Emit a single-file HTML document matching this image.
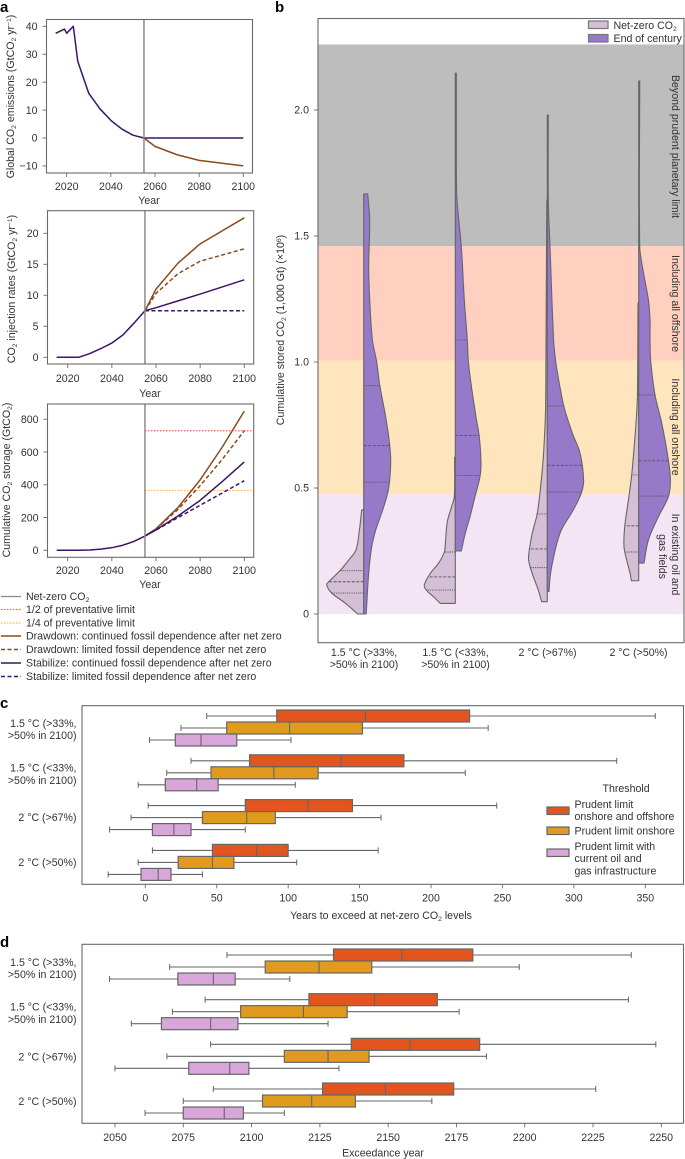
<!DOCTYPE html>
<html lang="en">
<head>
<meta charset="utf-8">
<title>CO2 storage chart</title>
<style>
html,body{margin:0;padding:0;background:#fff;}
svg{display:block;}
text{font-family:"Liberation Sans",sans-serif;font-size:10.6px;fill:#333;}
.pl{font-size:15px;font-weight:bold;fill:#000;}
.m{text-anchor:middle;}
.e{text-anchor:end;}
</style>
</head>
<body>
<svg id="fig" xmlns="http://www.w3.org/2000/svg" width="685" height="1159" viewBox="0 0 685 1159">
<rect x="0" y="0" width="685" height="1159" fill="#fff"/>
<g id="layerMarks"></g>

<text class="pl" x="0" y="12">a</text>
<text class="pl" x="275" y="12">b</text>
<text class="pl" x="0" y="708">c</text>
<text class="pl" x="0" y="947">d</text>

<text class="m" transform="translate(14 96.5) rotate(-90)">Global CO<tspan dy="2" font-size="6.8">2</tspan><tspan dy="-2"> emissions (GtCO</tspan><tspan dy="2" font-size="6.8">2</tspan><tspan dy="-2"> yr</tspan><tspan dy="-3" font-size="6.8">−1</tspan><tspan dy="3">)</tspan></text>
<text class="m" x="149" y="204">Year</text>
<text class="m" transform="translate(15 289) rotate(-90)">CO<tspan dy="2" font-size="6.8">2</tspan><tspan dy="-2"> injection rates (GtCO</tspan><tspan dy="2" font-size="6.8">2</tspan><tspan dy="-2"> yr</tspan><tspan dy="-3" font-size="6.8">−1</tspan><tspan dy="3">)</tspan></text>
<text class="m" x="150" y="397">Year</text>
<text class="m" transform="translate(10 480) rotate(-90)">Cumulative CO<tspan dy="2" font-size="6.8">2</tspan><tspan dy="-2"> storage (GtCO</tspan><tspan dy="2" font-size="6.8">2</tspan><tspan dy="-2">)</tspan></text>
<text class="m" x="150" y="588">Year</text>

<g>
<line x1="1" x2="21" y1="596.5" y2="596.5" stroke="#8c8c8c" stroke-width="1.3"/>
<text x="26" y="600">Net-zero CO<tspan dy="2" font-size="6.8">2</tspan></text>
<line x1="1" x2="21" y1="609.5" y2="609.5" stroke="#ff5a5a" stroke-width="1.3" stroke-dasharray="1.5 1.5"/>
<text x="26" y="613">1/2 of preventative limit</text>
<line x1="1" x2="21" y1="623" y2="623" stroke="#ffb84d" stroke-width="1.3" stroke-dasharray="1.5 1.5"/>
<text x="26" y="626.5">1/4 of preventative limit</text>
<line x1="1" x2="21" y1="636" y2="636" stroke="#8a4a1c" stroke-width="1.5"/>
<text x="26" y="639.5">Drawdown: continued fossil dependence after net zero</text>
<line x1="1" x2="21" y1="649.5" y2="649.5" stroke="#8a4a1c" stroke-width="1.5" stroke-dasharray="4 2.5"/>
<text x="26" y="653">Drawdown: limited fossil dependence after net zero</text>
<line x1="1" x2="21" y1="663" y2="663" stroke="#3b1566" stroke-width="1.5"/>
<text x="26" y="666.5">Stabilize: continued fossil dependence after net zero</text>
<line x1="1" x2="21" y1="676.5" y2="676.5" stroke="#3b1566" stroke-width="1.5" stroke-dasharray="4 2.5"/>
<text x="26" y="680">Stabilize: limited fossil dependence after net zero</text>
</g>

<text class="m" transform="translate(284 330) rotate(-90)">Cumulative stored CO<tspan dy="2" font-size="6.8">2</tspan><tspan dy="-2"> (1,000 Gt) (×10</tspan><tspan dy="-3" font-size="6.8">6</tspan><tspan dy="3">)</tspan></text>
<g>
<rect x="588.5" y="21" width="19.5" height="7.5" fill="#d4bfd6" stroke="#777" stroke-width="1.2"/>
<text x="613.5" y="29">Net-zero CO<tspan dy="2" font-size="6.8">2</tspan></text>
<rect x="588.5" y="34.5" width="19.5" height="7.5" fill="#9679c8" stroke="#777" stroke-width="1.2"/>
<text x="613.5" y="42">End of century</text>
</g>
<text class="m" transform="translate(672 146.5) rotate(90)">Beyond prudent planetary limit</text>
<text class="m" transform="translate(672 303.5) rotate(90)">Including all offshore</text>
<text class="m" transform="translate(672 427) rotate(90)">Including all onshore</text>
<text class="m" transform="translate(672 554.5) rotate(90)">In existing oil and</text>
<text class="m" transform="translate(659 556.5) rotate(90)">gas fields</text>

<text class="m" x="364" y="656">1.5 °C (&gt;33%,</text>
<text class="m" x="364" y="668">&gt;50% in 2100)</text>
<text class="m" x="455.5" y="656">1.5 °C (&lt;33%,</text>
<text class="m" x="455.5" y="668">&gt;50% in 2100)</text>
<text class="m" x="547.5" y="656">2 °C (&gt;67%)</text>
<text class="m" x="638.5" y="656">2 °C (&gt;50%)</text>

<text class="e" x="76.5" y="727">1.5 °C (&gt;33%,</text>
<text class="e" x="76.5" y="739">&gt;50% in 2100)</text>
<text class="e" x="76.5" y="771.5">1.5 °C (&lt;33%,</text>
<text class="e" x="76.5" y="784">&gt;50% in 2100)</text>
<text class="e" x="76.5" y="821">2 °C (&gt;67%)</text>
<text class="e" x="76.5" y="866">2 °C (&gt;50%)</text>
<text class="m" x="381" y="919">Years to exceed at net-zero CO<tspan dy="2" font-size="6.8">2</tspan><tspan dy="-2"> levels</tspan></text>

<g>
<text x="602.5" y="792">Threshold</text>
<rect x="547" y="807" width="22" height="7.5" fill="#e2551f" stroke="#666" stroke-width="1.2"/>
<text x="574.5" y="808">Prudent limit</text>
<text x="574.5" y="820">onshore and offshore</text>
<rect x="547" y="827" width="22" height="7.5" fill="#e09b1f" stroke="#666" stroke-width="1.2"/>
<text x="574.5" y="834.5">Prudent limit onshore</text>
<rect x="547" y="849" width="22" height="7.5" fill="#d8a6d8" stroke="#666" stroke-width="1.2"/>
<text x="574.5" y="850">Prudent limit with</text>
<text x="574.5" y="862">current oil and</text>
<text x="574.5" y="874.5">gas infrastructure</text>
</g>

<text class="e" x="76.5" y="966">1.5 °C (&gt;33%,</text>
<text class="e" x="76.5" y="978">&gt;50% in 2100)</text>
<text class="e" x="76.5" y="1010.5">1.5 °C (&lt;33%,</text>
<text class="e" x="76.5" y="1023">&gt;50% in 2100)</text>
<text class="e" x="76.5" y="1060.5">2 °C (&gt;67%)</text>
<text class="e" x="76.5" y="1105">2 °C (&gt;50%)</text>
<text class="m" x="383" y="1156.5">Exceedance year</text>
</svg>

<script>
// ---------- Panel a: time series ----------
const yearTicks = [2020, 2040, 2060, 2080, 2100];
const netZeroYear = 2055;

const emissionTicks = [-10, 0, 10, 20, 30, 40];
const histEmissionYears = [2015, 2019, 2020, 2023, 2025, 2030, 2035, 2040, 2045, 2050, 2055];
const histEmissions = [37.5, 39, 37.5, 40, 27.5, 16, 10.5, 6.3, 3.2, 1, 0];
const drawdownEmissionYears = [2055, 2060, 2070, 2080, 2100];
const drawdownEmissions = [0, -3, -6, -8, -10];
const stabilizeEmissionYears = [2055, 2100];
const stabilizeEmissions = [0, 0];

const injectionTicks = [0, 5, 10, 15, 20];
const histInjectionYears = [2015, 2025, 2030, 2035, 2040, 2045, 2050, 2055];
const histInjection = [0, 0, 0.6, 1.4, 2.3, 3.6, 5.5, 7.5];
const postInjectionYears = [2055, 2060, 2070, 2080, 2100];
const injectionDrawdownContinued = [7.5, 11, 15.2, 18.3, 22.5];
const injectionDrawdownLimited = [7.5, 10.3, 13.5, 15.5, 17.5];
const injectionStabilizeContinued = [7.5, 8, 9.1, 10.2, 12.5];
const injectionStabilizeLimited = [7.5, 7.5, 7.5, 7.5, 7.5];

const storageTicks = [0, 200, 400, 600, 800];
const histStorageYears = [2015, 2025, 2030, 2035, 2040, 2045, 2050, 2055];
const histStorage = [0, 0, 2, 7, 16, 31, 54, 87];
const postStorageYears = [2055, 2060, 2070, 2080, 2090, 2100];
const storageDrawdownContinued = [87, 131, 262, 430, 630, 850];
const storageDrawdownLimited = [87, 130, 250, 395, 555, 730];
const storageStabilizeContinued = [87, 125, 210, 305, 420, 540];
const storageStabilizeLimited = [87, 124, 200, 275, 350, 425];
const halfLimit = 730;
const quarterLimit = 365;

// ---------- Panel b: violins ----------
const storedTicks = [0, 0.5, 1.0, 1.5, 2.0];
const bandEdges = [2.26, 1.46, 1.005, 0.475, 0];
const bandColours = ['#bdbdbd', '#ffcfbf', '#ffe5bd', '#f4e5f5'];

const v1EndLevels = [1.667, 1.563, 1.377, 1.246, 1.087, 1.0, 0.909, 0.782, 0.671, 0.6, 0.5, 0.425, 0.333, 0.266, 0.163, 0];
const v1EndDensity = [0.4, 0.6, 0.5, 0.6, 0.87, 1.3, 1.6, 2.2, 2.6, 2.7, 2.5, 2.0, 1.2, 0.8, 0.5, 0.25];
const v1EndQuartiles = [0.906, 0.668, 0.523];
const v1NetLevels = [0.413, 0.333, 0.254, 0.214, 0.172, 0.128, 0.115, 0.083, 0.044, 0];
const v1NetDensity = [0.2, 0.43, 0.77, 1.5, 2.37, 3.5, 3.7, 3.2, 1.87, 0.6];
const v1NetQuartiles = [0.172, 0.128, 0.083];

const v2EndLevels = [2.146, 1.802, 1.643, 1.458, 1.246, 1.087, 1.005, 0.915, 0.782, 0.703, 0.6, 0.545, 0.466, 0.386, 0.321, 0.25];
const v2EndDensity = [0.1, 0.1, 0.17, 0.6, 0.9, 1.2, 1.3, 1.57, 2.07, 2.4, 2.57, 2.47, 1.97, 1.47, 1.0, 0.6];
const v2EndQuartiles = [1.087, 0.708, 0.55];
const v2NetLevels = [0.622, 0.465, 0.426, 0.366, 0.294, 0.246, 0.2, 0.161, 0.115, 0.095, 0.069, 0.042];
const v2NetDensity = [0.07, 0.1, 0.37, 0.8, 0.97, 1.1, 1.7, 2.5, 3.1, 2.9, 2.2, 1.5];
const v2NetQuartiles = [0.246, 0.147, 0.095];

const v3EndLevels = [1.98, 1.643, 1.458, 1.087, 1.005, 0.915, 0.822, 0.718, 0.639, 0.532, 0.48, 0.413, 0.333, 0.267, 0.163, 0.089];
const v3EndDensity = [0.1, 0.1, 0.27, 0.63, 0.83, 1.2, 1.67, 2.5, 3.27, 3.63, 3.4, 2.6, 1.4, 0.87, 0.33, 0.17];
const v3EndQuartiles = [0.825, 0.59, 0.484];
const v3NetLevels = [1.643, 0.822, 0.639, 0.532, 0.4, 0.321, 0.254, 0.214, 0.163, 0.095, 0.049];
const v3NetDensity = [0.05, 0.17, 0.37, 0.6, 1.0, 1.5, 1.8, 1.87, 1.53, 0.9, 0.57];
const v3NetQuartiles = [0.397, 0.258, 0.184];

const v4EndLevels = [2.115, 1.458, 1.378, 1.246, 1.167, 1.087, 1.005, 0.869, 0.758, 0.611, 0.532, 0.466, 0.386, 0.294, 0.202];
const v4EndDensity = [0.1, 0.1, 0.37, 0.97, 1.13, 1.13, 1.2, 1.63, 2.3, 2.97, 3.17, 2.97, 1.97, 0.97, 0.53];
const v4EndQuartiles = [0.869, 0.608, 0.468];
const v4NetLevels = [1.234, 0.864, 0.758, 0.552, 0.452, 0.346, 0.266, 0.214, 0.163, 0.132];
const v4NetDensity = [0.07, 0.13, 0.27, 0.7, 1.03, 1.4, 1.47, 1.2, 0.87, 0.73];
const v4NetQuartiles = [0.552, 0.35, 0.246];

// ---------- Panel c: box stats [low whisker, q1, median, q3, high whisker] ----------
const cTicks = [0, 50, 100, 150, 200, 250, 300, 350];
const cOnshoreOffshore = [[43, 92, 154, 227, 357], [32, 73, 137, 181, 330], [2, 70, 114, 145, 246], [5, 47, 78, 100, 163]];
const cOnshore = [[25, 57, 101, 152, 240], [15, 46, 90, 121, 224], [-10, 40, 71, 91, 165], [-5, 23, 47, 62, 106]];
const cCurrent = [[3, 21, 39, 64, 102], [-5, 14, 36, 51, 105], [-25, 5, 20, 32, 70], [-26, -3, 9, 18, 40]];

// ---------- Panel d: box stats ----------
const dTicks = [2050, 2075, 2100, 2125, 2150, 2175, 2200, 2225, 2250];
const dOnshoreOffshore = [[2091, 2130, 2155, 2181, 2239], [2083, 2121, 2145, 2168, 2238], [2085, 2136.5, 2158, 2183.5, 2248], [2086, 2126, 2149, 2174, 2226]];
const dOnshore = [[2070, 2105, 2124.7, 2144, 2198], [2071, 2096, 2119, 2135, 2176], [2069, 2112, 2128, 2143, 2186], [2075, 2104, 2122, 2138, 2166]];
const dCurrent = [[2048, 2073, 2086, 2094, 2114], [2056, 2067, 2085, 2095, 2128], [2050, 2077, 2092, 2099, 2132], [2061, 2075, 2090, 2097, 2112]];

// ---------- Drawing ----------
const NS = 'http://www.w3.org/2000/svg';
const layer = document.getElementById('layerMarks');
const FRAME = '#6a6a6a';
const BROWN = '#8a4a1c';
const PURPLE = '#3b1566';

function linear(d0, p0, d1, p1) {
  return function (v) { return p0 + (v - d0) * (p1 - p0) / (d1 - d0); };
}
function mk(tag, attrs, name) {
  const el = document.createElementNS(NS, tag);
  for (const k in attrs) el.setAttribute(k, attrs[k]);
  
  
  layer.appendChild(el);
  return el;
}
function txt(x, y, s, anchor, name) {
  const el = mk('text', { x: x, y: y, 'text-anchor': anchor }, name);
  el.textContent = s;
  return el;
}
function frame(x0, y0, x1, y1, name) {
  mk('rect', { x: x0, y: y0, width: x1 - x0, height: y1 - y0, fill: 'none', stroke: FRAME, 'stroke-width': 1.1 }, name);
}
function xAxis(ticks, sx, y1, labelY, fmt, name) {
  ticks.forEach(function (t) {
    mk('line', { x1: sx(t), x2: sx(t), y1: y1, y2: y1 + 4, stroke: FRAME, 'stroke-width': 0.9 }, name + '-tick');
    txt(sx(t), labelY, fmt(t), 'middle', name + '-tick-label');
  });
}
function yAxis(ticks, sy, x0, fmt, name) {
  ticks.forEach(function (t) {
    mk('line', { x1: x0 - 4, x2: x0, y1: sy(t), y2: sy(t), stroke: FRAME, 'stroke-width': 0.9 }, name + '-tick');
    txt(x0 - 9, sy(t) + 3.7, fmt(t), 'end', name + '-tick-label');
  });
}
function series(xs, ys, sx, sy, colour, dash, name) {
  const d = xs.map(function (x, i) { return (i ? 'L' : 'M') + sx(x).toFixed(2) + ' ' + sy(ys[i]).toFixed(2); }).join('');
  const attrs = { d: d, fill: 'none', stroke: colour, 'stroke-width': 1.5, 'stroke-linejoin': 'round' };
  if (dash) attrs['stroke-dasharray'] = dash;
  mk('path', attrs, name);
}
const plain = function (t) { return String(t); };
const minusFmt = function (t) { return t < 0 ? '−' + Math.abs(t) : String(t); };

// a1: emissions
(function () {
  const sx = linear(2020, 66.7, 2100, 243.3);
  const sy = linear(0, 138, 40, 26.3);
  series(drawdownEmissionYears, drawdownEmissions, sx, sy, BROWN, null, 'emissions-drawdown-line');
  series(stabilizeEmissionYears, stabilizeEmissions, sx, sy, PURPLE, null, 'emissions-stabilize-line');
  series(histEmissionYears, histEmissions, sx, sy, PURPLE, null, 'emissions-history-line');
  mk('line', { x1: sx(netZeroYear), x2: sx(netZeroYear), y1: 19.5, y2: 173, stroke: '#8c8c8c', 'stroke-width': 1.5 }, 'net-zero-line');
  frame(46.5, 19.5, 252.5, 173, 'emissions-plot-frame');
  xAxis(yearTicks, sx, 173, 190, plain, 'emissions-x');
  yAxis(emissionTicks, sy, 46.5, minusFmt, 'emissions-y');
})();

// a2: injection
(function () {
  const sx = linear(2020, 67.7, 2100, 244.3);
  const sy = linear(0, 357.3, 20, 233.3);
  series(postInjectionYears, injectionDrawdownContinued, sx, sy, BROWN, null, 'injection-drawdown-continued');
  series(postInjectionYears, injectionDrawdownLimited, sx, sy, BROWN, '4 2.5', 'injection-drawdown-limited');
  series(postInjectionYears, injectionStabilizeContinued, sx, sy, PURPLE, null, 'injection-stabilize-continued');
  series(postInjectionYears, injectionStabilizeLimited, sx, sy, PURPLE, '4 2.5', 'injection-stabilize-limited');
  series(histInjectionYears, histInjection, sx, sy, PURPLE, null, 'injection-history-line');
  mk('line', { x1: sx(netZeroYear), x2: sx(netZeroYear), y1: 210.7, y2: 364, stroke: '#8c8c8c', 'stroke-width': 1.5 }, 'net-zero-line');
  frame(47.5, 210.7, 253.7, 364, 'injection-plot-frame');
  xAxis(yearTicks, sx, 364, 382, plain, 'injection-x');
  yAxis(injectionTicks, sy, 47.5, plain, 'injection-y');
})();

// a3: storage
(function () {
  const sx = linear(2020, 67.7, 2100, 244.3);
  const sy = linear(0, 550.3, 800, 419.3);
  mk('line', { x1: sx(netZeroYear), x2: 253.7, y1: sy(halfLimit), y2: sy(halfLimit), stroke: '#ff5a5a', 'stroke-width': 1.3, 'stroke-dasharray': '1.5 1.5' }, 'half-preventative-limit');
  mk('line', { x1: sx(netZeroYear), x2: 253.7, y1: sy(quarterLimit), y2: sy(quarterLimit), stroke: '#ffb84d', 'stroke-width': 1.3, 'stroke-dasharray': '1.5 1.5' }, 'quarter-preventative-limit');
  series(postStorageYears, storageDrawdownContinued, sx, sy, BROWN, null, 'storage-drawdown-continued');
  series(postStorageYears, storageDrawdownLimited, sx, sy, BROWN, '4 2.5', 'storage-drawdown-limited');
  series(postStorageYears, storageStabilizeContinued, sx, sy, PURPLE, null, 'storage-stabilize-continued');
  series(postStorageYears, storageStabilizeLimited, sx, sy, PURPLE, '4 2.5', 'storage-stabilize-limited');
  series(histStorageYears, histStorage, sx, sy, PURPLE, null, 'storage-history-line');
  mk('line', { x1: sx(netZeroYear), x2: sx(netZeroYear), y1: 404, y2: 557.3, stroke: '#8c8c8c', 'stroke-width': 1.5 }, 'net-zero-line');
  frame(47.5, 404, 253.7, 557.3, 'storage-plot-frame');
  xAxis(yearTicks, sx, 557.3, 574, plain, 'storage-x');
  yAxis(storageTicks, sy, 47.5, plain, 'storage-y');
})();

// b: violins
function tangent(pts, i) {
  const a = pts[Math.max(i - 1, 0)], b = pts[Math.min(i + 1, pts.length - 1)];
  const dx = b[0] - a[0], dy = b[1] - a[1];
  const len = Math.hypot(dx, dy) || 1;
  return [dx / len, dy / len];
}
function smoothPath(pts) {
  let d = 'L' + pts[0][0].toFixed(2) + ' ' + pts[0][1].toFixed(2);
  for (let i = 0; i < pts.length - 1; i++) {
    const p1 = pts[i], p2 = pts[i + 1];
    const seg = Math.hypot(p2[0] - p1[0], p2[1] - p1[1]) / 3;
    const t1 = tangent(pts, i), t2 = tangent(pts, i + 1);
    const c1x = p1[0] + t1[0] * seg, c1y = p1[1] + t1[1] * seg;
    const c2x = p2[0] - t2[0] * seg, c2y = p2[1] - t2[1] * seg;
    d += 'C' + c1x.toFixed(2) + ' ' + c1y.toFixed(2) + ' ' + c2x.toFixed(2) + ' ' + c2y.toFixed(2) + ' ' + p2[0].toFixed(2) + ' ' + p2[1].toFixed(2);
  }
  return d;
}
function densityAt(levels, dens, q) {
  for (let i = 0; i < levels.length - 1; i++) {
    if (q <= levels[i] && q >= levels[i + 1]) {
      const f = (levels[i] - q) / (levels[i] - levels[i + 1]);
      return dens[i] + f * (dens[i + 1] - dens[i]);
    }
  }
  return 0;
}
function halfViolin(cx, dir, levels, dens, quarts, sy, fill, name) {
  const pts = levels.map(function (l, i) { return [cx + dir * dens[i] * 10, sy(l)]; });
  const d = 'M' + cx + ' ' + sy(levels[0]).toFixed(2) + smoothPath(pts) + 'L' + cx + ' ' + sy(levels[levels.length - 1]).toFixed(2) + 'Z';
  mk('path', { d: d, fill: fill, stroke: '#666', 'stroke-width': 1.1, 'stroke-linejoin': 'round' }, name);
  quarts.forEach(function (q, i) {
    mk('line', {
      x1: cx, x2: cx + dir * densityAt(levels, dens, q) * 10, y1: sy(q), y2: sy(q),
      stroke: '#555', 'stroke-width': 0.9, 'stroke-dasharray': i === 1 ? '3 1.5' : '1.2 1'
    }, name + '-quartile');
  });
}
(function () {
  const sy = linear(0, 614, 2, 110);
  const x0 = 318, x1 = 684;
  bandColours.forEach(function (c, i) {
    mk('rect', { x: x0, y: sy(bandEdges[i]), width: x1 - x0, height: sy(bandEdges[i + 1]) - sy(bandEdges[i]), fill: c }, 'threshold-band');
  });
  const NET = '#d4bfd6', END = '#9679c8';
  halfViolin(363.7, -1, v1NetLevels, v1NetDensity, v1NetQuartiles, sy, NET, 'violin-1-net-zero');
  halfViolin(363.7, 1, v1EndLevels, v1EndDensity, v1EndQuartiles, sy, END, 'violin-1-end-of-century');
  halfViolin(455.3, -1, v2NetLevels, v2NetDensity, v2NetQuartiles, sy, NET, 'violin-2-net-zero');
  halfViolin(455.3, 1, v2EndLevels, v2EndDensity, v2EndQuartiles, sy, END, 'violin-2-end-of-century');
  halfViolin(547.3, -1, v3NetLevels, v3NetDensity, v3NetQuartiles, sy, NET, 'violin-3-net-zero');
  halfViolin(547.3, 1, v3EndLevels, v3EndDensity, v3EndQuartiles, sy, END, 'violin-3-end-of-century');
  halfViolin(638.7, -1, v4NetLevels, v4NetDensity, v4NetQuartiles, sy, NET, 'violin-4-net-zero');
  halfViolin(638.7, 1, v4EndLevels, v4EndDensity, v4EndQuartiles, sy, END, 'violin-4-end-of-century');
  frame(318, 18.5, 684, 642.7, 'violin-plot-frame');
  yAxis(storedTicks, sy, 318, function (t) { return t === 0 ? '0' : t.toFixed(1); }, 'stored-y');
})();

// c, d: box plots
function boxRow(stat, y, sx, fill, name) {
  const low = stat[0], q1 = stat[1], med = stat[2], q3 = stat[3], hi = stat[4];
  mk('line', { x1: sx(low), x2: sx(hi), y1: y, y2: y, stroke: '#666', 'stroke-width': 1.1 }, name + '-whisker');
  mk('line', { x1: sx(low), x2: sx(low), y1: y - 3, y2: y + 3, stroke: '#666', 'stroke-width': 1 }, name + '-cap-low');
  mk('line', { x1: sx(hi), x2: sx(hi), y1: y - 3, y2: y + 3, stroke: '#666', 'stroke-width': 1 }, name + '-cap-high');
  mk('rect', { x: sx(q1), y: y - 6, width: sx(q3) - sx(q1), height: 12, fill: fill, stroke: '#666', 'stroke-width': 1.2 }, name + '-box');
  mk('line', { x1: sx(med), x2: sx(med), y1: y - 6, y2: y + 6, stroke: '#666', 'stroke-width': 1.1 }, name + '-median');
}
function boxPanel(red, orange, pink, sx, groupY, name) {
  red.forEach(function (s, i) { boxRow(s, groupY(i) - 12, sx, '#e2551f', name + '-onshore-offshore-' + i); });
  orange.forEach(function (s, i) { boxRow(s, groupY(i), sx, '#e09b1f', name + '-onshore-' + i); });
  pink.forEach(function (s, i) { boxRow(s, groupY(i) + 12, sx, '#d8a6d8', name + '-current-' + i); });
}
(function () {
  const sx = linear(0, 145.3, 350, 645.3);
  boxPanel(cOnshoreOffshore, cOnshore, cCurrent, sx, function (i) { return 728 + i * 44.8; }, 'c');
  frame(82, 705.7, 683.5, 884.3, 'c-plot-frame');
  xAxis(cTicks, sx, 884.3, 901.5, plain, 'c-x');
})();
(function () {
  const sx = linear(2050, 115, 2250, 661.3);
  boxPanel(dOnshoreOffshore, dOnshore, dCurrent, sx, function (i) { return 967 + i * 44.67; }, 'd');
  frame(82, 944.3, 683.5, 1123.3, 'd-plot-frame');
  xAxis(dTicks, sx, 1123.3, 1141, plain, 'd-x');
})();
</script>
</body>
</html>
